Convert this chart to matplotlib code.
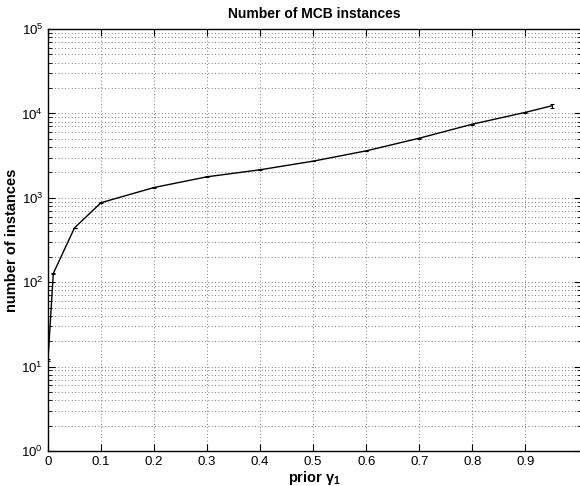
import matplotlib
matplotlib.use("Agg")
import matplotlib.pyplot as plt
from matplotlib.ticker import LogLocator, NullFormatter, FixedLocator
import numpy as np

plt.rcParams["font.family"] = ["Liberation Sans", "DejaVu Sans"]
plt.rcParams["mathtext.fontset"] = "custom"
plt.rcParams["mathtext.rm"] = "Liberation Sans"
plt.rcParams["mathtext.it"] = "Liberation Sans:italic"
plt.rcParams["mathtext.bf"] = "Liberation Sans:bold"

# values
prior = [0.0, 0.01, 0.05, 0.1, 0.2, 0.3, 0.4, 0.5, 0.6, 0.7, 0.8, 0.9, 0.95]
instances = [12, 127, 441, 875, 1324, 1774, 2148, 2718, 3600, 5080, 7450, 10280, 12300]
spread = [0.3, 1, 3, 6, 10, 15, 20, 25, 30, 45, 70, 120, 800]

fig = plt.figure(figsize=(5.8, 4.86), dpi=100)
ax = fig.add_axes([48 / 580, 1 - 451 / 486, 533 / 580, 422 / 486])

ax.errorbar(prior, instances, yerr=spread, color="black", lw=1.0,
            elinewidth=0.8, capsize=1.3, capthick=0.8)

ax.set_yscale("log")
ax.set_ylim(1, 1e5)
ax.set_xlim(0, 1.005)
ax.xaxis.set_major_locator(FixedLocator(np.round(np.arange(0, 1.0, 0.1), 1)))
ax.set_xticklabels(["0"] + ["%.1f" % v for v in np.arange(0.1, 1.0, 0.1)])
ax.yaxis.set_major_locator(LogLocator(base=10, numticks=10))
ax.yaxis.set_minor_locator(LogLocator(base=10, subs=np.arange(2, 10), numticks=20))
ax.yaxis.set_minor_formatter(NullFormatter())

ax.grid(True, which="major", axis="both", linestyle=(0, (1, 3)), color="0.3", lw=0.6)
ax.grid(True, which="minor", axis="y", linestyle=(0, (1, 3)), color="0.3", lw=0.6)

ax.tick_params(which="both", direction="in", top=True, right=True, labelsize=9.5)
ax.tick_params(which="major", length=5, width=0.8)
ax.tick_params(which="minor", length=3, width=0.6)
for s in ax.spines.values():
    s.set_linewidth(1.0)

ax.set_title("Number of MCB instances", fontsize=10, fontweight="bold", pad=8)
ax.set_xlabel(r"prior $\mathbf{\gamma_1}$", fontsize=10.5, fontweight="bold", labelpad=1)
ax.set_ylabel("number of instances", fontsize=10.5, fontweight="bold", labelpad=2)

fig.savefig("out.png", dpi=100)
